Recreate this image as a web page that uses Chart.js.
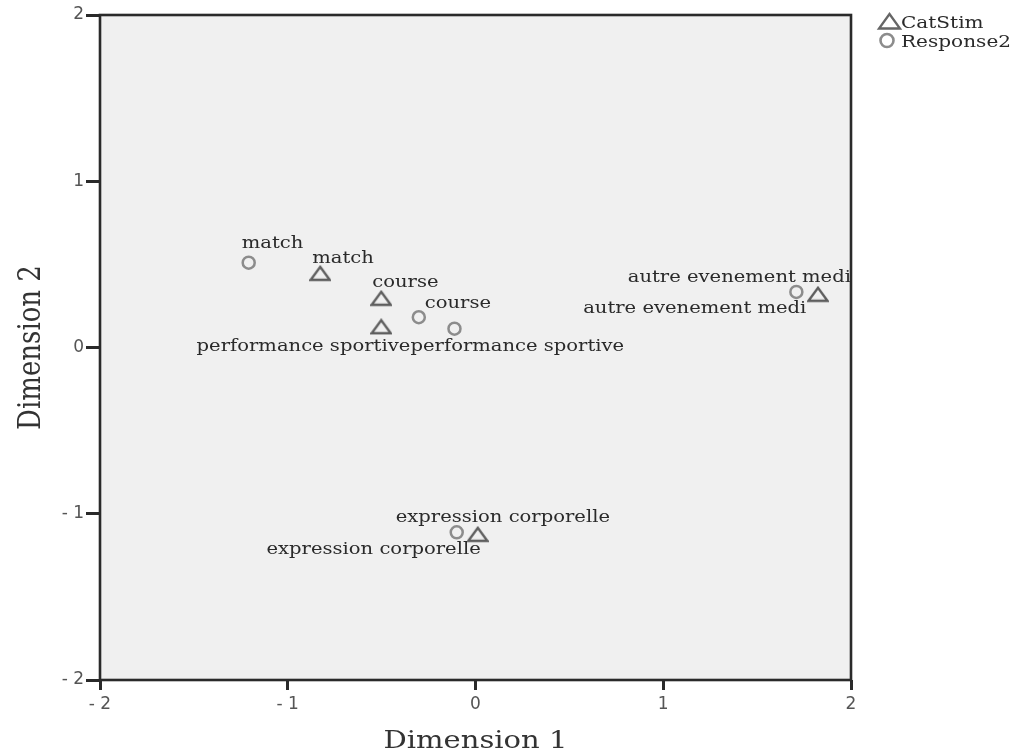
<!DOCTYPE html>
<html><head><meta charset="utf-8">
<script src="https://cdn.jsdelivr.net/npm/chart.js@4.4.1/dist/chart.umd.min.js"></script>
<style>html,body{margin:0;padding:0;background:#fff;} #wrap{width:1014px;height:753px;position:relative;}</style>
</head><body><div id="wrap"><canvas id="c" width="1014" height="753"></canvas></div>
<script>
// ---- data ----
const categories = ['match', 'course', 'performance sportive', 'autre evenement medi', 'expression corporelle'];
const seriesNames = ['CatStim', 'Response2'];
const catStimX = [-0.827, -0.502, -0.502, 1.824, 0.012];
const catStimY = [0.446, 0.296, 0.125, 0.320, -1.124];
const response2X = [-1.208, -0.302, -0.112, 1.709, -0.100];
const response2Y = [0.510, 0.182, 0.113, 0.334, -1.112];
const tickValues = [-2, -1, 0, 1, 2];
const tickLabels = ['- 2', '- 1', '0', '1', '2'];
const xTitle = 'Dimension 1';
const yTitle = 'Dimension 2';

// ---- label placement (style, pixels relative to the point) ----
const catStimLabelPlace = [
  {align: 'left', dx: -8, dy: -10},
  {align: 'left', dx: -9, dy: -11},
  {align: 'right', dx: 29, dy: 24},
  {align: 'right', dx: 33, dy: -12},
  {align: 'right', dx: 3, dy: 20}
];
const response2LabelPlace = [
  {align: 'left', dx: -7, dy: -15},
  {align: 'left', dx: 6, dy: -9},
  {align: 'left', dx: -44, dy: 22},
  {align: 'right', dx: 10, dy: 21},
  {align: 'left', dx: -61, dy: -10}
];

const SERIF = '"DejaVu Serif", "Liberation Serif", serif';
const TRI_COLOR = '#5e5e5e';
const CIRC_COLOR = '#8c8c8c';

function makeTriangle(w, h, lw, color) {
  const c = document.createElement('canvas');
  c.width = w + 3; c.height = h + 4;
  const g = c.getContext('2d');
  const cx = c.width / 2, top = (c.height - h) / 2, bot = top + h;
  g.strokeStyle = color; g.lineWidth = lw; g.lineJoin = 'miter';
  g.beginPath();
  g.moveTo(cx, top);
  g.lineTo(cx + w / 2, bot);
  g.lineTo(cx - w / 2, bot);
  g.closePath();
  g.stroke();
  return c;
}
const triImg = makeTriangle(19, 13, 2.3, TRI_COLOR);

function toPoints(xs, ys) { return xs.map((x, i) => ({x: x, y: ys[i]})); }

function stretchedText(ctx, text, x, y, sx, align) {
  ctx.save();
  ctx.translate(x, y);
  ctx.scale(sx, 1);
  ctx.textAlign = align;
  ctx.textBaseline = 'alphabetic';
  ctx.fillText(text, 0, 0);
  ctx.restore();
}

const decorPlugin = {
  id: 'decor',
  beforeDraw(chart) {
    const {ctx, chartArea: a} = chart;
    ctx.save();
    ctx.fillStyle = '#ffffff';
    ctx.fillRect(0, 0, chart.width, chart.height);
    ctx.fillStyle = '#f0f0f0';
    ctx.fillRect(a.left, a.top, a.right - a.left, a.bottom - a.top);
    ctx.restore();
  },
  beforeDatasetsDraw(chart) {
    const {ctx, chartArea: a} = chart;
    ctx.save();
    ctx.strokeStyle = '#2a2a2a';
    ctx.lineWidth = 2.6;
    ctx.strokeRect(a.left, a.top, a.right - a.left, a.bottom - a.top);
    ctx.restore();
  },
  afterDatasetsDraw(chart) {
    const {ctx, chartArea: a} = chart;
    ctx.save();
    // point labels
    ctx.fillStyle = '#2a2a2a';
    ctx.font = '17px ' + SERIF;
    const places = [catStimLabelPlace, response2LabelPlace];
    chart.data.datasets.forEach((ds, di) => {
      const meta = chart.getDatasetMeta(di);
      meta.data.forEach((pt, i) => {
        const p = places[di][i];
        stretchedText(ctx, categories[i], pt.x + p.dx, pt.y + p.dy, 1.15, p.align);
      });
    });
    // legend
    const lx = a.right + 28;
    ctx.strokeStyle = '#666666';
    ctx.lineWidth = 2.3;
    ctx.beginPath();
    ctx.moveTo(lx + 10.5, 14);
    ctx.lineTo(lx + 21, 28.5);
    ctx.lineTo(lx, 28.5);
    ctx.closePath();
    ctx.stroke();
    ctx.strokeStyle = CIRC_COLOR;
    ctx.lineWidth = 2.6;
    ctx.beginPath();
    ctx.arc(lx + 8, 40.5, 6.5, 0, Math.PI * 2);
    ctx.stroke();
    ctx.fillStyle = '#2a2a2a';
    ctx.font = '17px ' + SERIF;
    stretchedText(ctx, chart.data.datasets[0].label, lx + 22, 28, 1.18, 'left');
    stretchedText(ctx, chart.data.datasets[1].label, lx + 22, 46.5, 1.18, 'left');
    // axis titles
    ctx.fillStyle = '#333333';
    ctx.font = '25px ' + SERIF;
    stretchedText(ctx, xTitle, (a.left + a.right) / 2, a.bottom + 68, 1.16, 'center');
    ctx.save();
    ctx.font = '26px ' + SERIF;
    ctx.translate(40, (a.top + a.bottom) / 2);
    ctx.rotate(-Math.PI / 2);
    ctx.scale(1, 1.2);
    ctx.textAlign = 'center';
    ctx.textBaseline = 'alphabetic';
    ctx.fillText(yTitle, 0, 0);
    ctx.restore();
    ctx.restore();
  }
};

function tickCb(value) {
  const i = tickValues.indexOf(value);
  return i >= 0 ? tickLabels[i] : '';
}

new Chart(document.getElementById('c'), {
  type: 'scatter',
  data: {
    datasets: [
      {
        label: seriesNames[0],
        data: toPoints(catStimX, catStimY),
        pointStyle: triImg,
        pointRadius: 8,
        borderColor: TRI_COLOR,
        backgroundColor: 'transparent'
      },
      {
        label: seriesNames[1],
        data: toPoints(response2X, response2Y),
        pointStyle: 'circle',
        pointRadius: 6,
        borderWidth: 2.5,
        borderColor: CIRC_COLOR,
        backgroundColor: 'transparent'
      }
    ]
  },
  options: {
    responsive: false,
    animation: false,
    events: [],
    devicePixelRatio: 1,
    layout: {padding: {top: 15, right: 163, left: 0, bottom: 0}},
    plugins: {legend: {display: false}, tooltip: {enabled: false}},
    scales: {
      x: {
        type: 'linear', min: -2, max: 2,
        afterBuildTicks(s) { s.ticks = tickValues.map(v => ({value: v})); },
        afterFit(s) { s.height = 73; },
        grid: {display: true, drawOnChartArea: false, drawTicks: true, tickLength: 10, tickWidth: 3, tickColor: '#2a2a2a', color: '#2a2a2a'},
        border: {display: false},
        ticks: {callback: tickCb, padding: 4, color: '#555555', font: {family: '"DejaVu Sans", sans-serif', size: 17}, maxRotation: 0, autoSkip: false}
      },
      y: {
        type: 'linear', min: -2, max: 2,
        afterBuildTicks(s) { s.ticks = tickValues.map(v => ({value: v})); },
        afterFit(s) { s.width = 100; },
        grid: {display: true, drawOnChartArea: false, drawTicks: true, tickLength: 14, tickWidth: 3, tickColor: '#2a2a2a', color: '#2a2a2a'},
        border: {display: false},
        ticks: {callback: tickCb, padding: 2, color: '#555555', font: {family: '"DejaVu Sans", sans-serif', size: 17}, autoSkip: false}
      }
    }
  },
  plugins: [decorPlugin]
});
</script>
</body></html>
